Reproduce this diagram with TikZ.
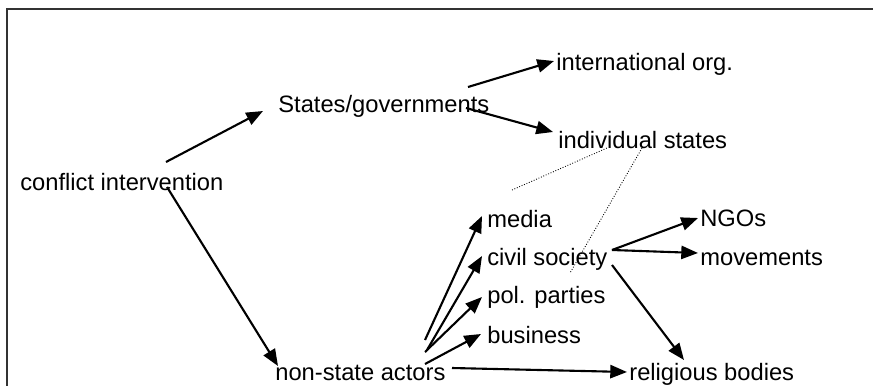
\documentclass[tikz,border=0pt]{standalone}
\usepackage{fontspec}
\setmainfont{Liberation Sans}
\usetikzlibrary{arrows.meta}

\begin{document}
\begin{tikzpicture}[x=0.02cm,y=-0.02cm,
    lbl/.style={anchor=base west,inner sep=0pt,font=\fontsize{13.5}{16}\selectfont},
    arr/.style={-{Triangle[length=9.5pt,width=7.5pt]},line width=1.2pt},
    dots/.style={densely dotted,line width=0.5pt}]
  \useasboundingbox (0,0) rectangle (873,386);
  %frame
  \draw[line width=1pt,black!80] (873,9) -| (7,386);

  %actors
  \node[lbl] (ci) at (20,190) {conflict intervention};
  \node[lbl] (sg) at (278,112) {States/governments};
  \node[lbl] (io) at (556,70) {international org.};
  \node[lbl] (is) at (558,148) {individual states};
  \node[lbl] (nsa) at (275,380) {non-state actors};
  \node[lbl] (me) at (487,227) {media};
  \node[lbl] (cs) at (487,265) {civil society};
  \node[lbl] (pp) at (487,303) {pol. parties};
  \node[lbl] (bu) at (487,343) {business};
  \node[lbl] (rb) at (629,380) {religious bodies};
  \node[lbl] (ng) at (700,226) {NGOs};
  \node[lbl] (mv) at (700,265) {movements};

  %states
  \draw[arr] ([shift={(146,-28)}]ci.base west) -- ([shift={(-15,-1)}]sg.base west);
  \draw[arr] ([shift={(190,-25)}]sg.base west) -- ([shift={(-2,-9)}]io.base west);
  \draw[arr] ([shift={(188,-4)}]sg.base west) -- ([shift={(-5,-16)}]is.base west);

  %non-state
  \draw[arr] ([shift={(147,-3)}]ci.base west) -- ([shift={(3,-14)}]nsa.base west);
  \draw[arr] ([shift={(150,-40)}]nsa.base west) -- ([shift={(-5,-11)}]me.base west);
  \draw[arr] ([shift={(152,-30)}]nsa.base west) -- ([shift={(-5,-9)}]cs.base west);
  \draw[arr] ([shift={(150,-28)}]nsa.base west) -- ([shift={(-5,-6)}]pp.base west);
  \draw[arr] ([shift={(150,-16)}]nsa.base west) -- ([shift={(-6,-9)}]bu.base west);
  \draw[arr] ([shift={(177,-12)}]nsa.base west) -- ([shift={(-2,-8)}]rb.base west);

  %civil society
  \draw[arr] ([shift={(125,-15)}]cs.base west) -- ([shift={(-2,-8)}]ng.base west);
  \draw[arr] ([shift={(125,-15)}]cs.base west) -- ([shift={(-2,-12)}]mv.base west);
  \draw[arr] ([shift={(125,0)}]cs.base west) -- ([shift={(55,-20)}]rb.base west);

  %links
  \draw[dots] ([shift={(25,-37)}]me.base west) -- ([shift={(49,0)}]is.base west);
  \draw[dots] ([shift={(84,0)}]is.base west) -- ([shift={(83,8)}]cs.base west);
\end{tikzpicture}
\end{document}
